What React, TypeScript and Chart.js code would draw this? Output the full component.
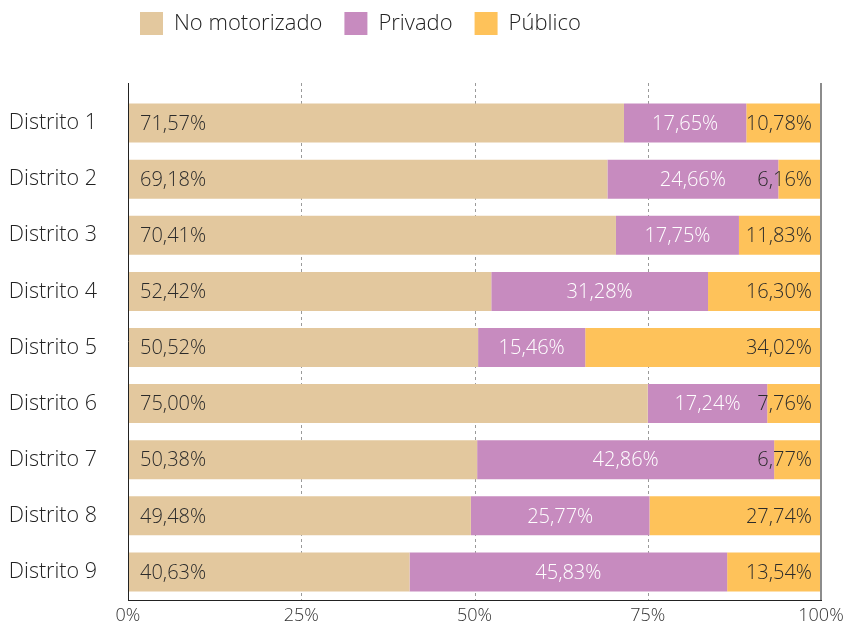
import React, { useEffect, useRef } from 'react';
import { Chart, registerables } from 'chart.js';

Chart.register(...registerables);

const categories = ['Distrito 1', 'Distrito 2', 'Distrito 3', 'Distrito 4', 'Distrito 5', 'Distrito 6', 'Distrito 7', 'Distrito 8', 'Distrito 9'];
const noMotorizado = [71.57, 69.18, 70.41, 52.42, 50.52, 75.0, 50.38, 49.48, 40.63];
const privado = [17.65, 24.66, 17.75, 31.28, 15.46, 17.24, 42.86, 25.77, 45.83];
const publico = [10.78, 6.16, 11.83, 16.3, 34.02, 7.76, 6.77, 27.74, 13.54];
const seriesNames = ['No motorizado', 'Privado', 'Público'];
const seriesColors = ['#E3C89E', '#C78BBF', '#FEC25A'];
const xTickValues = [0, 25, 50, 75, 100];

const FONT = "'Open Sans', 'DejaVu Sans', sans-serif";
const fmt = (v: number) => v.toFixed(2).replace('.', ',') + '%';
const LEGEND_PAD = 22;

const linesPlugin = {
  id: 'customLines',
  beforeDatasetsDraw(chart: any) {
    const { ctx, chartArea } = chart;
    const xs = chart.scales.x;
    const top = chartArea.top - 12;
    ctx.save();
    ctx.strokeStyle = '#9a9a9a';
    ctx.lineWidth = 1;
    ctx.setLineDash([3, 3]);
    xTickValues.slice(1, -1).forEach((v) => {
      const px = Math.round(xs.getPixelForValue(v)) + 0.5;
      ctx.beginPath();
      ctx.moveTo(px, top);
      ctx.lineTo(px, chartArea.bottom);
      ctx.stroke();
    });
    ctx.restore();
  },
  afterDatasetsDraw(chart: any) {
    const { ctx, chartArea } = chart;
    const xs = chart.scales.x;
    const top = chartArea.top - 12;
    ctx.save();
    const pr = xs.getPixelForValue(xTickValues[xTickValues.length - 1]);
    ctx.strokeStyle = '#8c8c8c';
    ctx.lineWidth = 2;
    ctx.beginPath();
    ctx.moveTo(pr, top);
    ctx.lineTo(pr, chartArea.bottom);
    ctx.stroke();
    const pl = Math.round(xs.getPixelForValue(xTickValues[0])) + 0.5;
    ctx.strokeStyle = '#222';
    ctx.lineWidth = 1;
    ctx.beginPath();
    ctx.moveTo(pl, top);
    ctx.lineTo(pl, chartArea.bottom);
    ctx.stroke();

    ctx.font = `300 20px ${FONT}`;
    ctx.textBaseline = 'middle';
    chart.data.datasets.forEach((ds: any, i: number) => {
      const meta = chart.getDatasetMeta(i);
      meta.data.forEach((el: any, j: number) => {
        const text = fmt(ds.data[j]);
        const start = Math.max(chartArea.left, Math.min(el.base, el.x));
        const end = Math.min(chartArea.right, Math.max(el.base, el.x));
        if (i === 0) {
          ctx.fillStyle = '#2b2b2b';
          ctx.textAlign = 'left';
          ctx.fillText(text, start + 12, el.y + 1);
        } else if (i === 1) {
          ctx.fillStyle = '#ffffff';
          ctx.textAlign = 'center';
          ctx.fillText(text, (start + end) / 2, el.y + 1);
        } else {
          ctx.fillStyle = '#2b2b2b';
          ctx.textAlign = 'right';
          ctx.fillText(text, end - 9, el.y + 1);
        }
      });
    });
    ctx.restore();
  },
};

const legendShift = {
  id: 'legendShift',
  afterLayout(chart: any) {
    const lg = chart.legend;
    if (!lg) return;
    lg.left = 140 - LEGEND_PAD;
    lg.top = 12 - LEGEND_PAD;
  },
};

export default function App() {
  const ref = useRef<HTMLCanvasElement | null>(null);
  useEffect(() => {
    document.body.style.margin = '0';
    const chart = new Chart(ref.current as HTMLCanvasElement, {
      type: 'bar',
      data: {
        labels: categories,
        datasets: [
          { label: seriesNames[0], data: noMotorizado, backgroundColor: seriesColors[0] },
          { label: seriesNames[1], data: privado, backgroundColor: seriesColors[1] },
          { label: seriesNames[2], data: publico, backgroundColor: seriesColors[2] },
        ],
      },
      options: {
        indexAxis: 'y',
        animation: false,
        responsive: true,
        maintainAspectRatio: false,
        datasets: { bar: { categoryPercentage: 1, barPercentage: 0.695 } },
        layout: { padding: { top: 40, right: 23, left: 0, bottom: 0 } },
        plugins: {
          tooltip: { enabled: false },
          legend: {
            position: 'top',
            align: 'start',
            labels: {
              boxWidth: 23,
              boxHeight: 23,
              padding: LEGEND_PAD,
              color: '#222',
              font: { family: FONT, size: 22, weight: '300' },
            },
          },
        },
        scales: {
          x: {
            stacked: true,
            min: 0,
            max: 100,
            afterBuildTicks: (s: any) => {
              s.ticks = xTickValues.map((v) => ({ value: v }));
            },
            afterFit: (s: any) => {
              s.height = 23;
              s.paddingLeft = 0;
              s.paddingRight = 0;
            },
            grid: { display: false, drawTicks: false },
            border: { display: true, color: '#222', width: 1 },
            ticks: {
              padding: 5,
              color: '#333',
              font: { family: FONT, size: 18, weight: '300' },
              callback: (v: any) => v + '%',
            },
          },
          y: {
            stacked: true,
            afterFit: (s: any) => {
              s.width = 128;
              s.paddingTop = 0;
              s.paddingBottom = 0;
            },
            grid: { display: false, drawTicks: false },
            border: { display: false },
            ticks: {
              padding: 31,
              color: '#222',
              font: { family: FONT, size: 21.5, weight: '300' },
            },
          },
        },
      },
      plugins: [linesPlugin, legendShift],
    });
    return () => chart.destroy();
  }, []);
  return (
    <div style={{ position: 'fixed', left: 0, top: 0, width: 844, height: 623 }}>
      <canvas ref={ref} style={{ display: 'block' }} />
    </div>
  );
}
